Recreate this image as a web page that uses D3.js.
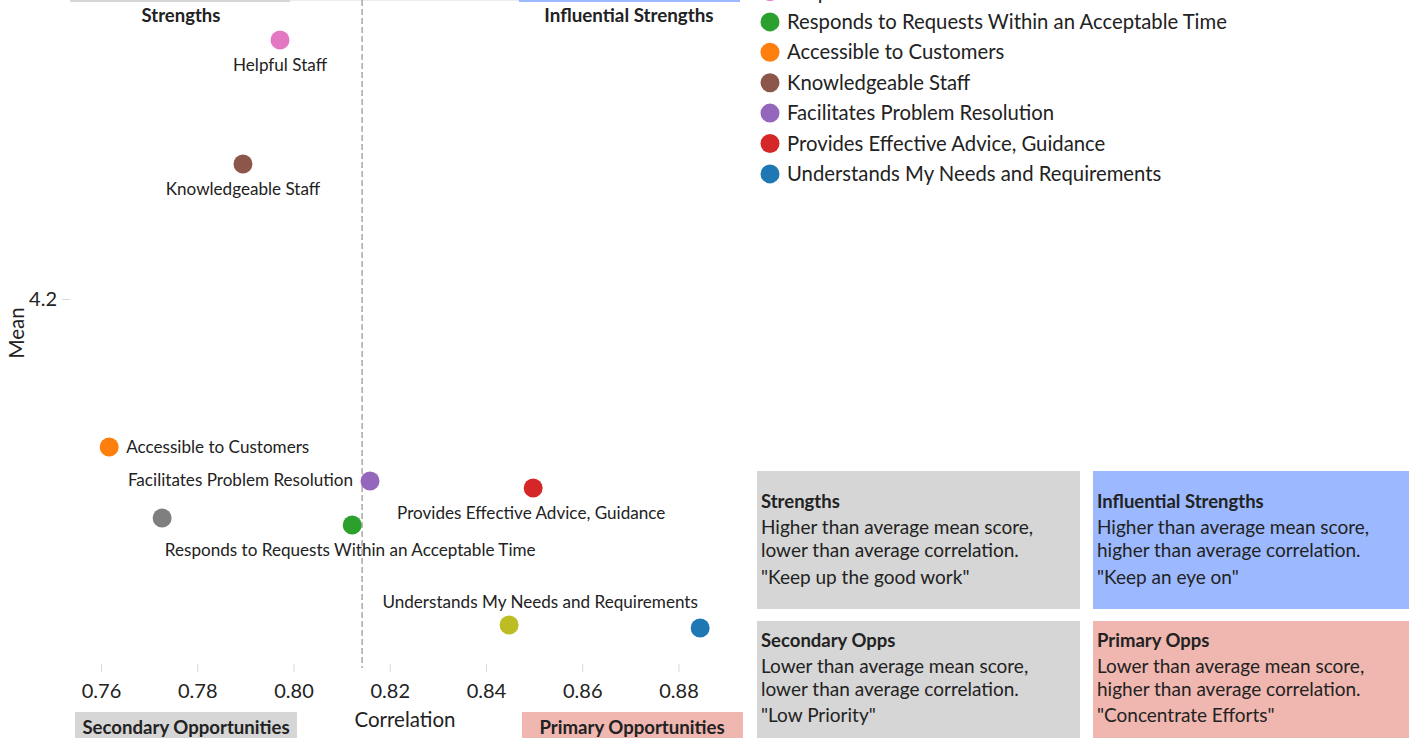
<!DOCTYPE html>
<html>
<head>
<meta charset="utf-8">
<script src="https://cdn.jsdelivr.net/npm/d3@7"></script>
<style>
  html, body { margin: 0; padding: 0; background: #fff; }
  svg { display: block; font-family: Lato, "Open Sans", sans-serif; }
</style>
</head>
<body>
<svg id="chart" width="1414" height="738"></svg>
<script>
// ---- data ----
const attributes = [
  "Gray Attribute",
  "Olive Attribute",
  "Helpful Staff",
  "Responds to Requests Within an Acceptable Time",
  "Accessible to Customers",
  "Knowledgeable Staff",
  "Facilitates Problem Resolution",
  "Provides Effective Advice, Guidance",
  "Understands My Needs and Requirements"
];
const correlation = [0.7727, 0.8448, 0.7972, 0.8122, 0.7617, 0.7895, 0.8159, 0.8498, 0.8845];
const meanScore   = [4.0905, 4.037, 4.3295, 4.087, 4.126, 4.2675, 4.109, 4.1055, 4.0355];
const colors = ["#7f7f7f", "#bcbd22", "#e377c2", "#2ca02c", "#ff7f0e", "#8c564b", "#9467bd", "#d62728", "#1f77b4"];
const labelled = [false, false, true, true, true, true, true, true, true];
const xTicks = [0.76, 0.78, 0.80, 0.82, 0.84, 0.86, 0.88];
const yTicks = [4.2];
const quadrantTitles = ["Strengths", "Influential Strengths", "Secondary Opps", "Primary Opps"];
const quadrantLines = [
  ["Higher than average mean score,", "lower than average correlation.", "\"Keep up the good work\""],
  ["Higher than average mean score,", "higher than average correlation.", "\"Keep an eye on\""],
  ["Lower than average mean score,", "lower than average correlation.", "\"Low Priority\""],
  ["Lower than average mean score,", "higher than average correlation.", "\"Concentrate Efforts\""]
];
const cornerLabels = ["Strengths", "Influential Strengths", "Secondary Opportunities", "Primary Opportunities"];

// ---- label placement (styling) ----
const labelPlacement = {
  "Helpful Staff": {dx: 0, dy: 31, anchor: "middle"},
  "Knowledgeable Staff": {dx: 0, dy: 31, anchor: "middle"},
  "Accessible to Customers": {dx: 17, dy: 6, anchor: "start"},
  "Facilitates Problem Resolution": {dx: -17, dy: 5, anchor: "end"},
  "Provides Effective Advice, Guidance": {dx: -2, dy: 31, anchor: "middle"},
  "Responds to Requests Within an Acceptable Time": {dx: -2, dy: 31, anchor: "middle"},
  "Understands My Needs and Requirements": {dx: -160, dy: -20, anchor: "middle"}
};

const svg = d3.select("#chart");

const x = d3.scaleLinear().domain([0.76, 0.88]).range([101, 678.5]);
const y = d3.scaleLinear().domain([4.0, 4.2]).range([699, 299]);

const avgCorr = d3.mean(correlation);

// top header strips (cut off)
svg.append("rect").attr("x", 70).attr("y", -20).attr("width", 220).attr("height", 22).attr("fill", "#d6d6d6");
svg.append("rect").attr("x", 290).attr("y", -20).attr("width", 229).attr("height", 21).attr("fill", "#ececec");
svg.append("rect").attr("x", 519).attr("y", -20).attr("width", 221).attr("height", 22).attr("fill", "#9cb9ff");

svg.append("text").attr("x", 181).attr("y", 22).attr("text-anchor", "middle")
  .attr("font-size", 18.5).attr("font-weight", "bold").attr("fill", "#222").text(cornerLabels[0]);
svg.append("text").attr("x", 629).attr("y", 22).attr("text-anchor", "middle")
  .attr("font-size", 18.8).attr("font-weight", "bold").attr("fill", "#222").text(cornerLabels[1]);

// bottom corner boxes
svg.append("rect").attr("x", 75).attr("y", 712).attr("width", 222).attr("height", 30).attr("fill", "#d6d6d6");
svg.append("rect").attr("x", 522).attr("y", 712).attr("width", 221).attr("height", 30).attr("fill", "#f0b6b0");
svg.append("text").attr("x", 186).attr("y", 734).attr("text-anchor", "middle")
  .attr("font-size", 18.6).attr("font-weight", "bold").attr("fill", "#222").text(cornerLabels[2]);
svg.append("text").attr("x", 632).attr("y", 734).attr("text-anchor", "middle")
  .attr("font-size", 18.6).attr("font-weight", "bold").attr("fill", "#222").text(cornerLabels[3]);

// x axis
const xAxis = d3.axisBottom(x).tickValues(xTicks).tickFormat(d3.format(".2f")).tickSize(8).tickPadding(12);
const gx = svg.append("g").attr("transform", "translate(0,664)").call(xAxis);
gx.select(".domain").remove();
gx.selectAll(".tick line").attr("stroke", "#d9d9d9");
gx.selectAll(".tick text").attr("font-size", 20).attr("fill", "#222").attr("font-family", "Lato, sans-serif");
svg.append("text").attr("x", 405).attr("y", 727).attr("text-anchor", "middle")
  .attr("font-size", 20.5).attr("fill", "#222").text("Correlation");

// y axis
const yAxis = d3.axisLeft(y).tickValues(yTicks).tickFormat(d3.format(".1f")).tickSize(8).tickPadding(5);
const gy = svg.append("g").attr("transform", "translate(70,0)").call(yAxis);
gy.select(".domain").remove();
gy.selectAll(".tick line").attr("stroke", "#d9d9d9");
gy.selectAll(".tick text").attr("font-size", 20).attr("fill", "#222").attr("font-family", "Lato, sans-serif");
svg.append("text").attr("transform", "translate(24,333) rotate(-90)").attr("text-anchor", "middle")
  .attr("font-size", 20.5).attr("fill", "#222").text("Mean");

// average correlation line
svg.append("line").attr("x1", x(avgCorr)).attr("x2", x(avgCorr)).attr("y1", 0).attr("y2", 668)
  .attr("stroke", "#a8a8a8").attr("stroke-width", 1.5).attr("stroke-dasharray", "6,3");

// points
const pts = attributes.map((a, i) => ({name: a, cx: correlation[i], my: meanScore[i], color: colors[i], lab: labelled[i]}));
svg.append("g").selectAll("circle").data(pts).join("circle")
  .attr("cx", d => x(d.cx)).attr("cy", d => y(d.my)).attr("r", 9.5).attr("fill", d => d.color);

svg.append("g").selectAll("text").data(pts.filter(d => d.lab)).join("text")
  .attr("x", d => x(d.cx) + labelPlacement[d.name].dx)
  .attr("y", d => y(d.my) + labelPlacement[d.name].dy)
  .attr("text-anchor", d => labelPlacement[d.name].anchor)
  .attr("font-size", 17.1).attr("fill", "#222").text(d => d.name);

// legend (top part cut off)
const legendItems = pts.slice(2);
const lg = svg.append("g").selectAll("g").data(legendItems).join("g")
  .attr("transform", (d, i) => `translate(770,${-8.5 + i * 30.4})`);
lg.append("circle").attr("r", 9.5).attr("fill", d => d.color);
lg.append("text").attr("x", 17).attr("y", 7).attr("font-size", 20.3).attr("fill", "#222").text(d => d.name);

// quadrant description boxes
const boxes = [
  {x: 757, y: 471, w: 323, h: 138, fill: "#d6d6d6", t: 37, offs: [63, 86, 113]},
  {x: 1093, y: 471, w: 316, h: 138, fill: "#9cb9ff", t: 37, offs: [63, 86, 113]},
  {x: 757, y: 621, w: 323, h: 130, fill: "#d6d6d6", t: 26, offs: [52, 75, 101]},
  {x: 1093, y: 621, w: 316, h: 130, fill: "#f0b6b0", t: 26, offs: [52, 75, 101]}
];
boxes.forEach((b, i) => {
  svg.append("rect").attr("x", b.x).attr("y", b.y).attr("width", b.w).attr("height", b.h).attr("fill", b.fill);
  svg.append("text").attr("x", b.x + 4).attr("y", b.y + b.t).attr("font-size", 18.5).attr("font-weight", "bold")
    .attr("fill", "#222").text(quadrantTitles[i]);
  quadrantLines[i].forEach((t, j) => {
    svg.append("text").attr("x", b.x + 4).attr("y", b.y + b.offs[j]).attr("font-size", 19)
      .attr("fill", "#222").text(t);
  });
});
</script>
</body>
</html>
